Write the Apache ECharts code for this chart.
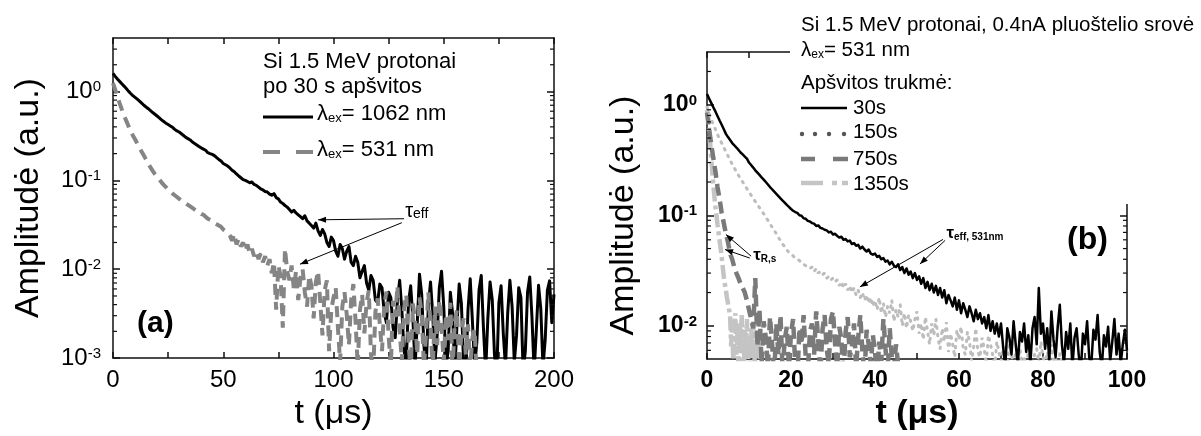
<!DOCTYPE html>
<html><head><meta charset="utf-8">
<script src="https://cdn.jsdelivr.net/npm/echarts@6/dist/echarts.min.js"></script>
<style>html,body{margin:0;padding:0;background:#fff}#c{width:1201px;height:436px}</style>
</head><body><div id="c"></div>
<script>
const FONT = "'Liberation Sans', Arial, Helvetica, sans-serif";

// ---------- Panel (a): Si 1.5 MeV protons, 30 s irradiation ----------
const aStep = 1; // µs sampling interval
const a1062 = [
1.6,1.48,1.38,1.3,1.22,1.15,1.08,1.01,0.95,0.9,
0.86,0.82,0.78,0.74,0.7,0.67,0.64,0.61,0.58,0.555,
0.53,0.505,0.48,0.46,0.44,0.425,0.41,0.395,0.375,0.36,
0.35,0.335,0.32,0.305,0.295,0.285,0.27,0.26,0.25,0.24,
0.232,0.225,0.218,0.205,0.2,0.196,0.19,0.18,0.172,0.165,
0.155,0.15,0.145,0.138,0.13,0.125,0.118,0.112,0.107,0.102,
0.1,0.097,0.094,0.096,0.09,0.088,0.084,0.08,0.078,0.075,
0.074,0.07,0.068,0.071,0.064,0.062,0.057,0.055,0.052,0.05,
0.047,0.044,0.046,0.043,0.041,0.039,0.037,0.04,0.035,0.033,
0.031,0.029,0.033,0.027,0.024,0.028,0.025,0.02,0.018,0.023,
0.021,0.016,0.014,0.019,0.017,0.013,0.016,0.018,0.012,0.011,
0.014,0.012,0.008,0.0095,0.011,0.007,0.0058,0.0085,0.0075,0.0045,
0.0042,0.0068,0.0062,0.0032,0.0025,0.0055,0.0048,0.0022,0.0017,0.0045,
0.0075,0.0035,0.0012,0.0009,0.0042,0.0065,0.0028,0.0008,0.0025,0.0088,
0.0052,0.0014,0.0007,0.0038,0.0072,0.0031,0.0009,0.0018,0.0062,0.0095,
0.0038,0.0008,0.0012,0.0055,0.0032,0.0007,0.0024,0.0068,0.0041,0.0009,
0.0006,0.0035,0.0078,0.0026,0.0008,0.0015,0.0058,0.0085,0.0022,0.0007,
0.0028,0.0072,0.0045,0.0011,0.0006,0.0042,0.0065,0.0019,0.0008,0.0032,
0.0075,0.0038,0.0009,0.0018,0.0062,0.0048,0.0007,0.0012,0.0055,0.0082,
0.0029,0.0007,0.0021,0.0066,0.0036,0.0008,0.0016,0.0058,0.0074,0.0025,
0.0052];
const a531 = [
1.24,1.05,0.88,0.74,0.63,0.54,0.47,0.41,0.36,0.32,
0.29,0.26,0.235,0.21,0.19,0.172,0.155,0.14,0.128,0.118,
0.11,0.102,0.095,0.089,0.084,0.079,0.075,0.071,0.068,0.065,
0.062,0.059,0.057,0.055,0.053,0.051,0.049,0.047,0.045,0.044,
0.042,0.041,0.039,0.037,0.036,0.035,0.033,0.032,0.031,0.03,
0.028,0.027,0.026,0.024,0.021,0.025,0.019,0.022,0.018,0.02,
0.016,0.019,0.015,0.017,0.014,0.016,0.013,0.015,0.012,0.014,
0.011,0.013,0.009,0.012,0.0035,0.011,0.0085,0.0022,0.017,0.0095,
0.0075,0.011,0.006,0.0095,0.0045,0.008,0.01,0.0055,0.0038,0.0085,
0.0065,0.0028,0.0072,0.0095,0.0042,0.0018,0.0058,0.0075,0.0012,0.0035,
0.0048,0.0062,0.0022,0.0009,0.0038,0.0055,0.0031,0.0014,0.0045,0.0068,
0.0026,0.0008,0.0035,0.0052,0.0019,0.0042,0.0058,0.0011,0.0007,0.0033,
0.0047,0.0024,0.0012,0.0039,0.0056,0.0018,0.0008,0.0044,0.0029,0.0065,
0.0021,0.0009,0.0036,0.0052,0.0015,0.0007,0.0041,0.0027,0.0011,0.0048,
0.0032,0.0008,0.0019,0.0055,0.0024,0.0007,0.0038,0.0014,0.0045,0.0022,
0.0009,0.0031,0.0016,0.0042,0.0007,0.0026,0.0035,0.0008,0.0019,0.0028,
0.0011,0.0024,0.0008,0.0017,0.0021,0.0006];
const aXLabels = [0, 50, 100, 150, 200];
const aYDecades = [0.001, 0.01, 0.1, 1];

// ---------- Panel (b): Si 1.5 MeV protons, 0.4 nA, λex = 531 nm ----------
const bStep = 0.5; // µs
const b30 = [
1.25,1.14,1.04,0.95,0.87,0.79,0.72,0.66,0.6,0.545,
0.51,0.48,0.45,0.43,0.41,0.39,0.37,0.355,0.34,0.325,
0.3,0.285,0.27,0.255,0.243,0.232,0.22,0.21,0.2,0.19,
0.18,0.172,0.164,0.156,0.149,0.142,0.136,0.13,0.124,0.119,
0.114,0.11,0.107,0.105,0.1,0.099,0.094,0.093,0.089,0.088,
0.085,0.084,0.08,0.081,0.077,0.076,0.074,0.073,0.07,0.071,
0.067,0.068,0.065,0.063,0.064,0.06,0.061,0.058,0.059,0.055,
0.056,0.053,0.054,0.05,0.052,0.049,0.047,0.049,0.045,0.044,
0.045,0.042,0.043,0.04,0.041,0.038,0.039,0.036,0.038,0.035,
0.034,0.036,0.032,0.034,0.03,0.033,0.029,0.031,0.027,0.03,
0.026,0.028,0.024,0.027,0.022,0.025,0.021,0.024,0.02,0.023,
0.019,0.022,0.018,0.021,0.016,0.019,0.017,0.015,0.018,0.014,
0.017,0.013,0.016,0.014,0.012,0.015,0.013,0.011,0.014,0.0115,
0.013,0.0105,0.012,0.0095,0.0125,0.009,0.011,0.0085,0.0105,0.008,
0.0105,0.0065,0.0042,0.0095,0.0078,0.0055,0.011,0.0068,0.0045,0.0088,
0.0072,0.0105,0.0058,0.0082,0.0045,0.0095,0.012,0.0068,0.022,0.0085,
0.0105,0.0062,0.0095,0.0048,0.0135,0.0075,0.0052,0.0098,0.0155,0.0068,
0.0045,0.0088,0.0062,0.0105,0.0042,0.0078,0.0095,0.0055,0.0038,0.0085,
0.0068,0.011,0.0052,0.0044,0.0092,0.0075,0.0125,0.0058,0.0042,0.0082,
0.0065,0.0098,0.0048,0.0072,0.0115,0.0055,0.0085,0.0045,0.0068,0.0092,
0.006];
const b150 = [
0.95,0.84,0.74,0.66,0.6,0.54,0.49,0.45,0.41,0.375,
0.345,0.315,0.29,0.268,0.248,0.23,0.214,0.2,0.186,0.174,
0.162,0.152,0.142,0.133,0.125,0.117,0.11,0.103,0.096,0.09,
0.084,0.078,0.073,0.068,0.063,0.059,0.055,0.052,0.049,0.046,
0.044,0.043,0.041,0.04,0.039,0.037,0.036,0.035,0.034,0.033,
0.034,0.031,0.033,0.03,0.031,0.029,0.03,0.027,0.028,0.026,
0.027,0.025,0.026,0.023,0.025,0.022,0.024,0.021,0.023,0.02,
0.022,0.019,0.021,0.018,0.02,0.017,0.019,0.016,0.018,0.015,
0.017,0.014,0.018,0.013,0.016,0.012,0.015,0.013,0.017,0.011,
0.014,0.012,0.0155,0.01,0.013,0.0095,0.0125,0.011,0.009,0.0115,
0.0135,0.0085,0.0105,0.0075,0.012,0.009,0.0068,0.0105,0.0082,0.0115,
0.0078,0.0062,0.0095,0.0072,0.0108,0.0058,0.0085,0.0068,0.0052,0.0092,
0.0075,0.0098,0.0062,0.0055,0.0088,0.0072,0.0048,0.0065,0.0095,0.0058,
0.0052,0.0078,0.0062,0.0045,0.0082,0.0068,0.0055,0.0042,0.0072,0.0058,
0.0048,0.0065,0.0052,0.0044,0.0068,0.0055,0.0042,0.0058,0.0047,0.0062,
0.0045,0.0052,0.0041,0.0058,0.0048,0.0043,0.0055,0.0062,0.0046,0.0072,
0.0052,0.0044,0.0058,0.0049,0.0068,0.0045,0.0052,0.0041,0.0056,0.0047,
0.0043];
const b750 = [
0.85,0.6,0.44,0.33,0.25,0.18,0.14,0.105,0.085,0.068,
0.057,0.045,0.04,0.034,0.03,0.027,0.024,0.022,0.02,0.017,
0.014,0.0115,0.0095,0.027,0.0065,0.014,0.0045,0.011,0.0078,0.0042,
0.012,0.0068,0.0035,0.0105,0.0055,0.0125,0.0038,0.0075,0.0098,0.0042,
0.0085,0.0115,0.0045,0.0032,0.0095,0.0068,0.0125,0.0052,0.0038,0.0088,
0.0105,0.0055,0.0135,0.0072,0.0038,0.0092,0.0125,0.0062,0.0045,0.0115,
0.0135,0.0068,0.0042,0.0098,0.0075,0.0035,0.0088,0.012,0.0052,0.0065,
0.0105,0.0042,0.0078,0.0125,0.0058,0.0036,0.0092,0.0068,0.0045,0.0082,
0.0058,0.0035,0.0072,0.0048,0.0115,0.0062,0.0038,0.0095,0.0052,0.0042,
0.0068,0.0045,0.0035];
const b1350Step = 0.25; // µs
const b1350 = [
0.9,0.8,0.62,0.45,0.33,0.25,0.19,0.15,0.12,0.1,
0.083,0.07,0.059,0.05,0.042,0.034,0.028,0.024,0.021,0.018,
0.016,0.014,0.0125,0.0065,0.011,0.0045,0.0095,0.013,0.0055,0.0085,
0.0042,0.0105,0.0068,0.0125,0.0048,0.0035,0.0092,0.0062,0.0115,0.0045,
0.0078,0.0038,0.0098,0.0055,0.0108,0.0042,0.0072,0.0035,0.0088,0.0052,
0.0065,0.0038,0.0045];
const bXLabels = [0, 20, 40, 60, 80, 100];
const bYDecades = [0.01, 0.1, 1];

// ---------- helpers ----------
function pairs(arr, step) { return arr.map((v, i) => [Math.round(i * step * 1000) / 1000, v]); }
function minorsOf(min, max) {
  const out = [];
  const lo = Math.floor(Math.log10(min)), hi = Math.ceil(Math.log10(max));
  for (let e = lo; e <= hi; e++) for (let k = 2; k <= 9; k++) {
    const v = k * Math.pow(10, e);
    if (v > min * 1.0001 && v < max * 0.9999) out.push(+v.toPrecision(3));
  }
  return out;
}
function supFmt(v) { return '{m|10}{s|' + Math.round(Math.log10(v)) + '}'; }

const AX = '#111';
function logAxes(gi, min, max, decades, rich, name, nameGap, nameStyle, margin) {
  const common = { type: 'log', logBase: 10, min, max, gridIndex: gi,
    splitLine: { show: false }, minorTick: { show: false }, minorSplitLine: { show: false } };
  const ls = { color: AX, width: 1.5 };
  return [
    Object.assign({}, common, { position: 'left',
      axisLine: { show: true, onZero: false, lineStyle: ls },
      axisTick: { show: true, inside: true, length: 7, customValues: decades, lineStyle: ls },
      axisLabel: { show: true, customValues: decades, margin: margin, formatter: supFmt, rich: rich, color: '#000' },
      name: name, nameLocation: 'middle', nameGap: nameGap, nameRotate: 90, nameTextStyle: nameStyle }),
    Object.assign({}, common, { position: 'right',
      axisLine: { show: true, onZero: false, lineStyle: ls },
      axisTick: { show: true, inside: true, length: 7, customValues: decades, lineStyle: ls },
      axisLabel: { show: false } })
  ];
}
function valAxes(gi, max, interval, labels, labelStyle, name, nameGap, nameStyle) {
  const ls = { color: AX, width: 1.5 };
  const common = { type: 'value', gridIndex: gi, min: 0, max, interval, splitLine: { show: false } };
  return [
    Object.assign({}, common, { position: 'bottom',
      axisLine: { show: true, onZero: false, lineStyle: ls },
      axisTick: { show: true, inside: true, length: 6, lineStyle: ls },
      axisLabel: Object.assign({ formatter: v => labels.indexOf(v) >= 0 ? String(v) : '', color: '#000', showMinLabel: true, showMaxLabel: true, hideOverlap: false }, labelStyle),
      name: name, nameLocation: 'middle', nameGap: nameGap, nameTextStyle: nameStyle }),
    Object.assign({}, common, { position: 'top',
      axisLine: { show: true, onZero: false, lineStyle: ls },
      axisTick: { show: true, inside: true, length: 6, lineStyle: ls },
      axisLabel: { show: false } })
  ];
}

const richA = {
  m: { fontSize: 24, fontFamily: FONT, color: '#000', lineHeight: 24, verticalAlign: 'bottom' },
  s: { fontSize: 15, fontFamily: FONT, color: '#000', lineHeight: 15, verticalAlign: 'top', padding: [0, 0, 12, 0] }
};
const richB = {
  m: { fontSize: 23, fontWeight: 'bold', fontFamily: FONT, color: '#000', lineHeight: 23, verticalAlign: 'bottom' },
  s: { fontSize: 15, fontWeight: 'bold', fontFamily: FONT, color: '#000', lineHeight: 15, verticalAlign: 'top', padding: [0, 0, 12, 0] }
};

const chart = echarts.init(document.getElementById('c'), null, { renderer: 'canvas' });

const option = {
  animation: false,
  backgroundColor: '#fff',
  textStyle: { fontFamily: FONT },
  grid: [
    { left: 113, top: 38, width: 441, height: 326 },
    { left: 707, top: 52, width: 420, height: 308 }
  ],
  xAxis: [].concat(
    valAxes(0, 200, 25, aXLabels, { fontSize: 24, fontFamily: FONT, margin: 10 }, 't (μs)', 32, { fontSize: 34, fontFamily: FONT, color: '#000' }),
    valAxes(1, 100, 10, bXLabels, { fontSize: 23, fontWeight: 'bold', fontFamily: FONT, margin: 10 }, 't (μs)', 37, { fontSize: 34, fontWeight: 'bold', fontFamily: FONT, color: '#000' })
  ),
  yAxis: [].concat(
    logAxes(0, 0.001, 4, aYDecades, richA, 'Amplitudė (a.u.)', 67, { fontSize: 34, fontFamily: FONT, color: '#000' }, 12),
    logAxes(1, 0.005, 3, bYDecades, richB, 'Amplitudė (a.u.)', 66, { fontSize: 34, fontFamily: FONT, color: '#000', padding: [0, 20, 0, 0] }, 10)
  ),
  series: [
    { name: 'λex = 1062 nm', type: 'line', xAxisIndex: 0, yAxisIndex: 0, data: pairs(a1062, aStep),
      showSymbol: false, clip: true, lineStyle: { color: '#000', width: 3, join: 'round' } },
    { name: 'λex = 531 nm', type: 'line', xAxisIndex: 0, yAxisIndex: 0, data: pairs(a531, aStep),
      showSymbol: false, clip: true, lineStyle: { color: '#858585', width: 4, type: [11, 7] } },
    { name: '1350s', type: 'line', xAxisIndex: 2, yAxisIndex: 2, data: pairs(b1350, b1350Step),
      showSymbol: false, clip: true, lineStyle: { color: '#c4c4c4', width: 4.5, type: [14, 4, 4, 4] } },
    { name: '750s', type: 'line', xAxisIndex: 2, yAxisIndex: 2, data: pairs(b750, bStep),
      showSymbol: false, clip: true, lineStyle: { color: '#7a7a7a', width: 4.5, type: [12, 6] } },
    { name: '150s', type: 'line', xAxisIndex: 2, yAxisIndex: 2, data: pairs(b150, bStep),
      showSymbol: false, clip: true, lineStyle: { color: '#bdbdbd', width: 3, type: [1.5, 6], cap: 'round' } },
    { name: '30s', type: 'line', xAxisIndex: 2, yAxisIndex: 2, data: pairs(b30, bStep),
      showSymbol: false, clip: true, lineStyle: { color: '#000', width: 2.5, join: 'round' } }
  ]
};
chart.setOption(option);

// ---------- annotations & legends ----------
const G = [];
function txt(x, y, text, font, extra) {
  G.push({ type: 'text', z: 120, style: Object.assign({ x, y, text, font, fill: '#000', verticalAlign: 'middle', align: 'left' }, extra || {}) });
}
function lamb(x, yc, tail, size) {
  G.push({ type: 'text', z: 120, style: { x, y: yc - size / 2, text: '{l|λ}{s|ex}{t|' + tail + '}', verticalAlign: 'top', align: 'left',
    rich: {
      l: { fontSize: size, fontFamily: FONT, lineHeight: size, verticalAlign: 'top', fill: '#000' },
      s: { fontSize: Math.round(size * 0.6), fontFamily: FONT, lineHeight: Math.round(size * 0.6), verticalAlign: 'bottom', padding: [Math.round(size * 0.62), 0, 0, 0], fill: '#000' },
      t: { fontSize: size, fontFamily: FONT, lineHeight: size, verticalAlign: 'top', fill: '#000' }
    } } });
}
function seg(x1, y1, x2, y2, color, w, dash, cap, z) {
  G.push({ type: 'line', z: z || 120, shape: { x1, y1, x2, y2 }, style: { stroke: color, lineWidth: w, lineDash: dash || null, lineCap: cap || 'butt' } });
}
function arrow(p0, p1) {
  seg(p0[0], p0[1], p1[0], p1[1], '#000', 1);
  const dx = p1[0] - p0[0], dy = p1[1] - p0[1], L = Math.hypot(dx, dy), ux = dx / L, uy = dy / L;
  const hl = 8, hw = 3;
  const bx = p1[0] - ux * hl, by = p1[1] - uy * hl;
  G.push({ type: 'polygon', z: 120, shape: { points: [[p1[0], p1[1]], [bx - uy * hw, by + ux * hw], [bx + uy * hw, by - ux * hw]] }, style: { fill: '#000' } });
}
const pa = (t, v) => chart.convertToPixel({ xAxisIndex: 0, yAxisIndex: 0 }, [t, v]);
const pb = (t, v) => chart.convertToPixel({ xAxisIndex: 2, yAxisIndex: 2 }, [t, v]);

// minor log ticks (2..9 × decade) on left and right frames, placed through the log axes
function minorTicks(conv, xmax, ymin, ymax) {
  const xl = conv(0, ymin)[0], xr = conv(xmax, ymin)[0];
  minorsOf(ymin, ymax).forEach(v => {
    const y = conv(0, v)[1];
    seg(xl, y, xl + 4, y, AX, 1.2, null, 'butt', 50);
    seg(xr - 4, y, xr, y, AX, 1.2, null, 'butt', 50);
  });
}
minorTicks(pa, 200, 0.001, 4);
minorTicks(pb, 100, 0.005, 3);

// white legend box of panel (b) covering the frame corner
G.push({ type: 'rect', z: 110, shape: { x: 790, y: 0, width: 411, height: 204 }, style: { fill: '#fff' } });

// Panel (a) legend
txt(263, 62, 'Si 1.5 MeV protonai', '22px ' + FONT);
txt(263, 87, 'po 30 s apšvitos', '22px ' + FONT);
seg(263, 117, 313, 117, '#000', 3);
lamb(317, 114, '= 1062 nm', 22);
seg(263, 152, 280, 152, '#858585', 4);
seg(296, 152, 313, 152, '#858585', 4);
lamb(317, 150, '= 531 nm', 22);
txt(137, 324, '(a)', 'bold 30px ' + FONT);

// Panel (a) τeff annotation
arrow(pa(132, 0.037), pa(93, 0.036));
arrow(pa(131, 0.0334), pa(84.8, 0.0114));
const ta = pa(132.5, 0.045);
G.push({ type: 'text', z: 120, style: { x: ta[0], y: ta[1], text: '{t|τ}{s|eff}', verticalAlign: 'middle', align: 'left',
  rich: { t: { fontSize: 20, fontFamily: FONT, lineHeight: 20, verticalAlign: 'top' },
          s: { fontSize: 14, fontFamily: FONT, lineHeight: 14, verticalAlign: 'bottom', padding: [14, 0, 0, 0] } } } });

// Panel (b) legend
const BF = '20.5px ' + FONT;
txt(801, 25, 'Si 1.5 MeV protonai, 0.4nA pluoštelio srovė', BF);
lamb(801, 50, '= 531 nm', 20.5);
txt(801, 83, 'Apšvitos trukmė:', BF);
seg(801, 108, 847, 108, '#000', 2.5);
txt(853, 108, '30s', BF);
[801, 814, 828, 843].forEach(x => G.push({ type: 'circle', z: 120, shape: { cx: x + 1, cy: 134, r: 2.2 }, style: { fill: '#555' } }));
txt(853, 132, '150s', BF);
seg(801, 159, 815, 159, '#7a7a7a', 4.5);
seg(833, 159, 848, 159, '#7a7a7a', 4.5);
txt(853, 159, '750s', BF);
seg(801, 183, 823, 183, '#c4c4c4', 4.5);
seg(832, 183, 837, 183, '#c4c4c4', 4.5);
seg(842, 183, 848, 183, '#c4c4c4', 4.5);
txt(853, 184, '1350s', BF);
txt(1067, 240, '(b)', 'bold 32px ' + FONT);

// Panel (b) τ annotations
arrow(pb(10.5, 0.0427), pb(4.5, 0.067));
arrow(pb(10.2, 0.041), pb(4.3, 0.049));
const tr = pb(11, 0.043);
G.push({ type: 'text', z: 120, style: { x: tr[0], y: tr[1], text: '{t|τ}{s|R,s}', verticalAlign: 'middle', align: 'left',
  rich: { t: { fontSize: 17, fontWeight: 'bold', fontFamily: FONT, lineHeight: 17, verticalAlign: 'top' },
          s: { fontSize: 10, fontWeight: 'bold', fontFamily: FONT, lineHeight: 10, verticalAlign: 'bottom', padding: [12, 0, 0, 0] } } } });
arrow(pb(56.2, 0.0605), pb(36.4, 0.0225));
arrow(pb(56.7, 0.0593), pb(50.7, 0.0362));
const te = pb(57, 0.0686);
G.push({ type: 'text', z: 120, style: { x: te[0], y: te[1], text: '{t|τ}{s|eff, 531nm}', verticalAlign: 'middle', align: 'left',
  rich: { t: { fontSize: 17, fontWeight: 'bold', fontFamily: FONT, lineHeight: 17, verticalAlign: 'top' },
          s: { fontSize: 10, fontWeight: 'bold', fontFamily: FONT, lineHeight: 10, verticalAlign: 'bottom', padding: [12, 0, 0, 0] } } } });

chart.setOption({ graphic: { elements: G } });
</script></body></html>
